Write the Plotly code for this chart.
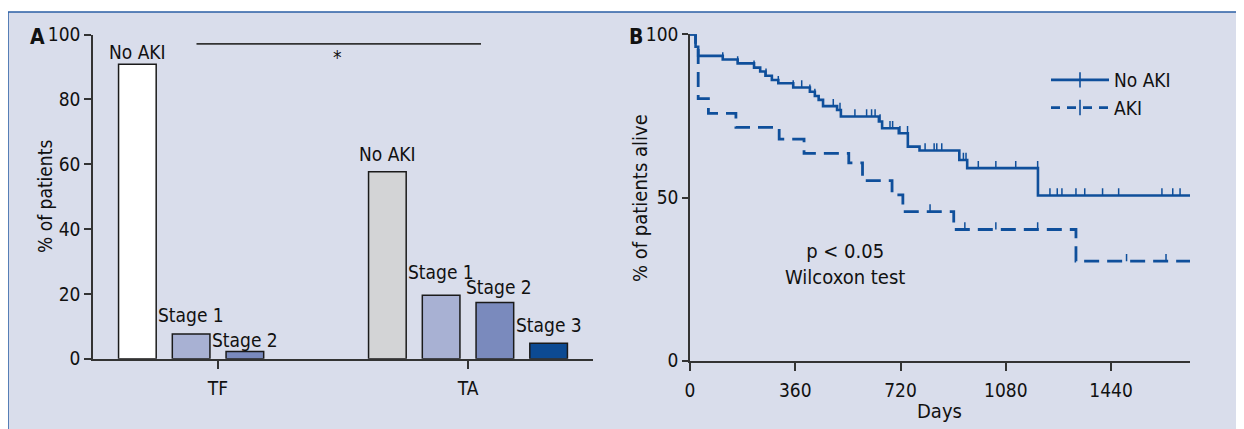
import plotly.graph_objects as go

# ---------------- Panel A data ----------------
groups = ["TF", "TA"]
stages = ["No AKI", "Stage 1", "Stage 2", "Stage 3"]
no_aki = [90.8, 57.7]
stage1 = [7.6, 19.6]
stage2 = [2.2, 17.3]
stage3 = [None, 4.8]

# ---------------- Panel B data (Kaplan-Meier) ----------------
no_aki_days = [0, 19, 28, 112, 163, 219, 240, 258, 280, 302, 353, 410, 427, 440,
               455, 503, 516, 646, 657, 714, 745, 785, 921, 948, 1190, 1710]
no_aki_surv = [100, 96.2, 93.4, 92.3, 91.1, 89.8, 88.6, 87.3, 86.0, 85.0, 83.7, 82.4,
               81.1, 79.9, 78.0, 76.8, 74.8, 73.3, 71.2, 69.7, 65.6, 64.4, 61.5, 59.0,
               50.6, 50.6]
no_aki_censored = [112, 163, 219, 260, 302, 353, 382, 410, 427, 490, 513, 564, 604,
                   621, 633, 650, 684, 693, 718, 744, 804, 835, 844, 861, 921, 935,
                   944, 986, 1046, 1114, 1189, 1231, 1256, 1272, 1320, 1350, 1411,
                   1466, 1614, 1651, 1676]
aki_days = [0, 19, 28, 63, 157, 305, 390, 543, 590, 691, 728, 902, 1320, 1710]
aki_surv = [100, 96.2, 80.3, 75.8, 71.5, 67.9, 63.5, 60.6, 55.2, 50.8, 45.7, 40.2,
            30.5, 30.5]
aki_censored = [821, 940, 1046, 1189, 1493, 1628]

x_ticks_days = [0, 360, 720, 1080, 1440]

# ---------------- styles ----------------
# the page places the figure 8px from the window's top-left corner
PAGE_OFF = 8
W, H = 1244 - PAGE_OFF, 429 - PAGE_OFF


def px_x(x):  # window pixel -> paper fraction
    return (x - PAGE_OFF) / W


def px_y(y):
    return 1 - (y - PAGE_OFF) / H


FONT = "Liberation Sans Narrow, Arial Narrow, DejaVu Sans Condensed, Liberation Sans, sans-serif"
FS = 19
TXT = "#111111"
AX = "#333333"
BLUE = "#0f4f9b"
BG = "#d9ddeb"
BORDER = "#2b5fa5"
stage_colors = [["#ffffff", "#d3d4d6"], "#a8b1d3", "#7a8abd", "#0c4a92"]
label_lift_px = [[12, 18], [19, 23], [12, 16], [0, 18]]
label_xshift_px = [[0, 0], [0, 0], [0, 4], [0, 0]]
bargap = 0.14
n_slots = len(stages)

fig = go.Figure()

series = [no_aki, stage1, stage2, stage3]
for k, (name, vals) in enumerate(zip(stages, series)):
    fig.add_trace(go.Bar(
        x=groups, y=vals, name=name, showlegend=False,
        marker=dict(color=stage_colors[k], line=dict(color="#1a1a1a", width=1.5)),
        xaxis="x", yaxis="y", hoverinfo="skip"))

# bar labels
slot_w = (1 - bargap) / n_slots
for k, (name, vals) in enumerate(zip(stages, series)):
    for g, v in enumerate(vals):
        if v is None:
            continue
        fig.add_annotation(
            x=g + (k - (n_slots - 1) / 2) * slot_w, y=v, xref="x", yref="y",
            text=name, showarrow=False, xanchor="center", yanchor="middle",
            yshift=label_lift_px[k][g], xshift=label_xshift_px[k][g],
            font=dict(family=FONT, size=FS, color=TXT))

# significance bar
fig.add_shape(type="line", xref="x", yref="y", x0=-0.086, x1=1.052, y0=97.1, y1=97.1,
              line=dict(color=AX, width=1.6))
fig.add_annotation(x=0.477, y=93.0, xref="x", yref="y", text="*", showarrow=False,
                   xanchor="center", yanchor="middle",
                   font=dict(family=FONT, size=FS, color=TXT))


def step_value(days, surv, t):
    val = surv[0]
    for d, s in zip(days, surv):
        if d <= t:
            val = s
    return val


def censor_segments(days, surv, cens, h=2.2):
    xs, ys = [], []
    for t in cens:
        s = step_value(days, surv, t)
        xs += [t, t, None]
        ys += [s, s + h, None]
    return xs, ys


solid = dict(color=BLUE, width=2.6)
dashed = dict(color=BLUE, width=2.8, dash="15px,8px")
tick_marker = dict(symbol="line-ns", size=11, line=dict(color=BLUE, width=1.6))

fig.add_trace(go.Scatter(
    x=no_aki_days, y=no_aki_surv, mode="lines", line_shape="hv", name="No AKI",
    line=solid, showlegend=False, xaxis="x2", yaxis="y2", hoverinfo="skip"))
fig.add_trace(go.Scatter(
    x=aki_days, y=aki_surv, mode="lines", line_shape="hv", name="AKI",
    line=dashed, showlegend=False, xaxis="x2", yaxis="y2", hoverinfo="skip"))
cx, cy = censor_segments(no_aki_days, no_aki_surv, no_aki_censored)
fig.add_trace(go.Scatter(x=cx, y=cy, mode="lines", line=dict(color=BLUE, width=1.5),
                         showlegend=False, xaxis="x2", yaxis="y2", hoverinfo="skip"))
cx, cy = censor_segments(aki_days, aki_surv, aki_censored)
fig.add_trace(go.Scatter(x=cx, y=cy, mode="lines", line=dict(color=BLUE, width=1.5),
                         showlegend=False, xaxis="x2", yaxis="y2", hoverinfo="skip"))
# legend entries (line + censor tick)
fig.add_trace(go.Scatter(x=[None], y=[None], mode="lines+markers", name="No AKI",
                         line=solid, marker=tick_marker, xaxis="x2", yaxis="y2"))
fig.add_trace(go.Scatter(x=[None], y=[None], mode="lines+markers", name="AKI",
                         line=dict(color=BLUE, width=2.8, dash="9px,7px"),
                         marker=tick_marker, xaxis="x2", yaxis="y2"))

fig.add_annotation(x=530, y=29.6, xref="x2", yref="y2",
                   text="p < 0.05<br>Wilcoxon test", showarrow=False,
                   xanchor="center", yanchor="middle",
                   font=dict(family=FONT, size=20, color=TXT))

# background box with border
fig.add_shape(type="rect", xref="paper", yref="paper", x0=px_x(8), x1=1.05,
              y0=-0.05, y1=px_y(12), fillcolor=BG,
              line=dict(color=BORDER, width=1.5), layer="below")


def paper_text(x, y, text, angle=0, size=FS):
    fig.add_annotation(x=px_x(x), y=px_y(y), xref="paper", yref="paper", text=text,
                       textangle=angle, showarrow=False, xanchor="center",
                       yanchor="middle", font=dict(family=FONT, size=size, color=TXT))


paper_text(37.5, 37, "<b>A</b>", size=21)
paper_text(636, 37, "<b>B</b>", size=21)
paper_text(45, 197, "% of patients", angle=-90)
paper_text(640, 198, "% of patients alive", angle=-90, size=20)
paper_text(939, 411, "Days", size=20)

axis_common = dict(showline=True, linecolor=AX, linewidth=1.6, ticks="outside",
                   tickcolor=AX, tickwidth=1.5, showgrid=False, zeroline=False,
                   automargin=False,
                   tickfont=dict(family=FONT, size=FS, color=TXT), fixedrange=True)

fig.update_layout(
    width=W, height=H, autosize=False,
    margin=dict(l=0, r=0, t=0, b=0, pad=0),
    paper_bgcolor="white", plot_bgcolor="white",
    barmode="group", bargap=bargap, bargroupgap=0.30,
    font=dict(family=FONT, size=FS, color=TXT),
    xaxis=dict(domain=[px_x(93), px_x(593)], anchor="y", type="category",
               range=[-0.5, 1.5], ticklen=8, ticklabelstandoff=4, **axis_common),
    yaxis=dict(domain=[px_y(358.7), px_y(34.5)], anchor="x", range=[0, 100],
               tickvals=[0, 20, 40, 60, 80, 100], ticklen=7, **axis_common),
    xaxis2=dict(domain=[px_x(690), px_x(1190)], anchor="y2", range=[0, 1710],
                tickvals=x_ticks_days, ticklen=8, ticklabelstandoff=4, **axis_common),
    yaxis2=dict(domain=[px_y(360.7), px_y(34.3)], anchor="x2", range=[0, 100],
                tickvals=[0, 50, 100], ticklen=6, **axis_common),
    legend=dict(x=px_x(1046), y=px_y(61), xanchor="left", yanchor="top",
                bgcolor="rgba(0,0,0,0)", font=dict(family=FONT, size=FS, color=TXT),
                itemwidth=58, tracegroupgap=0),
    showlegend=True,
)

fig.write_html("out.html")
